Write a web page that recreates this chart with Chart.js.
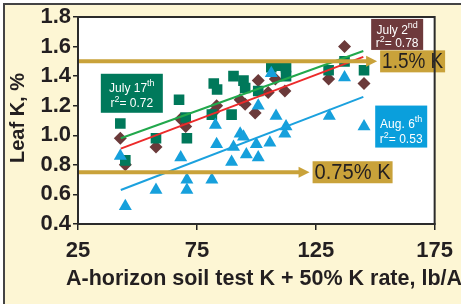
<!DOCTYPE html>
<html>
<head>
<meta charset="utf-8">
<script src="https://cdn.jsdelivr.net/npm/chart.js@4.4.1/dist/chart.umd.min.js"></script>
<style>
  html, body { margin: 0; padding: 0; background: #fff; }
  #wrap { width: 461px; height: 304px; }
</style>
</head>
<body>
<div id="wrap"><canvas id="leafChart" width="461" height="304"></canvas></div>
<script>
const xTicks = [25, 75, 125, 175];
const yTicks = [0.4, 0.6, 0.8, 1.0, 1.2, 1.4, 1.6, 1.8];

// July 17th (squares)
const july17X = [42.8, 44.9, 57.8, 67.5, 70.3, 70.8, 82.1, 83.5, 81.3, 90.4, 94.6, 95.3, 89.6, 100.8, 106.3, 110.0, 112.5, 112.5, 130.4, 137.1, 145.3];
const july17Y = [1.08, 0.83, 0.98, 1.24, 1.12, 0.98, 1.35, 1.31, 1.14, 1.40, 1.37, 1.32, 1.14, 1.30, 1.46, 1.47, 1.46, 1.40, 1.44, 1.50, 1.44];

// July 2nd (diamonds)
const july2X = [42.8, 44.9, 57.8, 68.2, 70.3, 83.3, 82.1, 93.2, 95.3, 99.5, 100.8, 105.0, 108.0, 112.0, 130.4, 137.1, 145.3];
const july2Y = [0.98, 0.80, 0.92, 1.11, 1.06, 1.20, 1.16, 1.24, 1.21, 1.15, 1.37, 1.29, 1.38, 1.30, 1.38, 1.60, 1.35];

// Aug. 6th (triangles)
const aug6X = [42.8, 44.9, 57.8, 68.2, 70.8, 70.8, 81.3, 82.8, 83.3, 89.6, 90.4, 93.2, 94.6, 95.8, 100.0, 100.8, 100.8, 105.7, 106.3, 108.3, 112.5, 112.0, 130.7, 137.1, 145.3];
const aug6Y = [0.86, 0.52, 0.63, 0.85, 0.70, 0.63, 0.70, 1.07, 0.94, 0.82, 0.92, 1.01, 0.99, 0.87, 0.94, 0.85, 1.20, 0.95, 1.42, 1.13, 1.06, 1.01, 1.13, 1.39, 1.06];

// fitted lines (end points)
const fitX = [43, 145];
const fitJuly17 = [0.98, 1.57];
const fitJuly2 = [0.91, 1.53];
const fitAug6 = [0.63, 1.26];

// critical levels
const critLevels = [1.5, 0.75];
const critLabels = ['1.5% K', '0.75% K'];
const critArrowEnd = [150.8, 122.4];

const gold = '#c9a23a';
const ink = '#231f20';

function pts(xs, ys) {
  return xs.map((x, i) => ({ x: x, y: ys[i] }));
}

const frame = {
  id: 'frame',
  beforeDraw(chart) {
    const ctx = chart.ctx;
    const a = chart.chartArea;
    ctx.save();
    ctx.fillStyle = '#fff';
    ctx.fillRect(0, 0, chart.width, chart.height);
    ctx.fillStyle = '#fdf6d4';
    ctx.fillRect(4, 4, chart.width, chart.height);
    ctx.strokeStyle = '#444';
    ctx.lineWidth = 2;
    ctx.beginPath();
    ctx.moveTo(4, chart.height);
    ctx.lineTo(4, 4);
    ctx.lineTo(chart.width, 4);
    ctx.stroke();
    ctx.fillStyle = '#fff';
    ctx.fillRect(a.left, a.top, a.right - a.left, a.bottom - a.top);
    ctx.restore();
  },
  afterDatasetsDraw(chart) {
    const ctx = chart.ctx;
    const a = chart.chartArea;
    const xs = chart.scales.x, ys = chart.scales.y;
    ctx.save();
    // critical level arrows
    critLevels.forEach((lv, i) => {
      const y = ys.getPixelForValue(lv);
      const xe = xs.getPixelForValue(critArrowEnd[i]);
      ctx.strokeStyle = gold;
      ctx.fillStyle = gold;
      ctx.lineWidth = 4;
      ctx.beginPath();
      ctx.moveTo(a.left + 1, y);
      ctx.lineTo(xe - 8, y);
      ctx.stroke();
      ctx.beginPath();
      ctx.moveTo(xe, y);
      ctx.lineTo(xe - 11, y - 5.5);
      ctx.lineTo(xe - 11, y + 5.5);
      ctx.closePath();
      ctx.fill();
      ctx.font = '22px "Liberation Sans"';
      const w = i === 0 ? 59 : 74;
      const bx = xe + 3;
      ctx.fillRect(bx, y - 11, w + 6, 22);
      ctx.fillStyle = ink;
      ctx.textBaseline = 'middle';
      ctx.textAlign = 'left';
      ctx.fillText(critLabels[i], bx + 2, y + 1, w + 2);
    });
    ctx.restore();
  },
  afterDraw(chart) {
    const ctx = chart.ctx;
    const a = chart.chartArea;
    const xs = chart.scales.x, ys = chart.scales.y;
    ctx.save();
    // plot border
    ctx.strokeStyle = '#2b2b2b';
    ctx.lineWidth = 2;
    ctx.strokeRect(a.left, a.top, a.right - a.left, a.bottom - a.top);

    // date boxes
    const boxes = [
      { x: 34.6, y: 1.416, w: 62, h: 39, c: '#00795b', t1: 'July 17', s: 'th', t2: '0.72', b1: 18, b2: 33 },
      { x: 148.3, y: 1.787, w: 52, h: 31, c: '#6e3a3c', t1: 'July 2', s: 'nd', t2: '0.78', b1: 15, b2: 28 },
      { x: 150.0, y: 1.201, w: 52, h: 42, c: '#0a9fdc', t1: 'Aug. 6', s: 'th', t2: '0.53', b1: 22, b2: 37 }
    ];
    boxes.forEach(b => {
      const bx = xs.getPixelForValue(b.x);
      const by = ys.getPixelForValue(b.y);
      ctx.fillStyle = b.c;
      ctx.fillRect(bx, by, b.w, b.h);
      ctx.fillStyle = '#fff';
      ctx.textBaseline = 'alphabetic';
      ctx.textAlign = 'left';
      const cx = bx + b.w / 2;
      ctx.font = '12px "Liberation Sans"';
      const w1 = ctx.measureText(b.t1).width;
      ctx.font = '9px "Liberation Sans"';
      const ws = ctx.measureText(b.s).width;
      let sx = cx - (w1 + ws) / 2;
      ctx.font = '12px "Liberation Sans"';
      ctx.fillText(b.t1, sx, by + b.b1);
      ctx.font = '9px "Liberation Sans"';
      ctx.fillText(b.s, sx + w1, by + b.b1 - 6);
      // r2 line
      ctx.font = '12px "Liberation Sans"';
      const wr = ctx.measureText('r').width;
      const rest = '= ' + b.t2;
      const wrest = ctx.measureText(rest).width;
      ctx.font = '9px "Liberation Sans"';
      const w2 = ctx.measureText('2').width;
      sx = cx - (wr + w2 + wrest) / 2;
      ctx.font = '12px "Liberation Sans"';
      ctx.fillText('r', sx, by + b.b2);
      ctx.font = '9px "Liberation Sans"';
      ctx.fillText('2', sx + wr, by + b.b2 - 5);
      ctx.font = '12px "Liberation Sans"';
      ctx.fillText(rest, sx + wr + w2, by + b.b2);
    });

    // axis titles
    ctx.fillStyle = ink;
    ctx.textAlign = 'center';
    ctx.textBaseline = 'alphabetic';
    ctx.font = 'bold 21.5px "Liberation Sans"';
    ctx.fillText('A-horizon soil test K + 50% K rate, lb/A', 264, 285, 400);
    ctx.font = 'bold 20px "Liberation Sans"';
    ctx.translate(24, 118);
    ctx.rotate(-Math.PI / 2);
    ctx.fillText('Leaf K, %', 0, 0, 94);
    ctx.restore();
  }
};

const ctx = document.getElementById('leafChart').getContext('2d');
const leafChart = new Chart(ctx, {
  type: 'scatter',
  data: {
    datasets: [
      {
        label: 'July 17th fit',
        data: pts(fitX, fitJuly17),
        showLine: true,
        borderColor: '#22a84c',
        borderWidth: 2,
        pointRadius: 0,
        order: 1
      },
      {
        label: 'July 2nd fit',
        data: pts(fitX, fitJuly2),
        showLine: true,
        borderColor: '#ec2a2a',
        borderWidth: 2,
        pointRadius: 0,
        order: 2
      },
      {
        label: 'Aug. 6th fit',
        data: pts(fitX, fitAug6),
        showLine: true,
        borderColor: '#1ba1de',
        borderWidth: 2,
        pointRadius: 0,
        order: 3
      },
      {
        label: 'Aug. 6th',
        data: pts(aug6X, aug6Y),
        pointStyle: 'triangle',
        pointRadius: 7.5,
        backgroundColor: '#16a0dc',
        borderWidth: 0,
        order: 4
      },
      {
        label: 'July 17th',
        data: pts(july17X, july17Y),
        pointStyle: 'rect',
        pointRadius: 7.5,
        backgroundColor: '#00785a',
        borderWidth: 0,
        order: 5
      },
      {
        label: 'July 2nd',
        data: pts(july2X, july2Y),
        pointStyle: 'rectRot',
        pointRadius: 6.5,
        backgroundColor: '#6b3a3a',
        borderWidth: 0,
        order: 6
      }
    ]
  },
  options: {
    responsive: false,
    animation: false,
    devicePixelRatio: 1,
    layout: { padding: { top: 17, right: 24, left: 0, bottom: 0 } },
    plugins: {
      legend: { display: false },
      tooltip: { enabled: false }
    },
    scales: {
      x: {
        type: 'linear',
        min: 25,
        max: 175,
        afterFit: s => { s.height = 80; },
        afterBuildTicks: s => { s.ticks = xTicks.map(v => ({ value: v })); },
        grid: { drawOnChartArea: false, tickLength: 6, color: '#222', lineWidth: 1.5 },
        border: { color: '#222', width: 2 },
        ticks: {
          padding: 8,
          color: ink,
          font: { family: 'Liberation Sans', size: 22, weight: 'bold' },
          maxRotation: 0
        }
      },
      y: {
        min: 0.4,
        max: 1.8,
        afterFit: s => { s.width = 78; },
        afterBuildTicks: s => { s.ticks = yTicks.map(v => ({ value: v })); },
        grid: { drawOnChartArea: false, tickLength: 5, color: '#222', lineWidth: 1.5 },
        border: { color: '#222', width: 2 },
        ticks: {
          padding: 2,
          color: ink,
          font: { family: 'Liberation Sans', size: 22, weight: 'bold' },
          callback: v => v.toFixed(1)
        }
      }
    }
  },
  plugins: [frame]
});
</script>
</body>
</html>
